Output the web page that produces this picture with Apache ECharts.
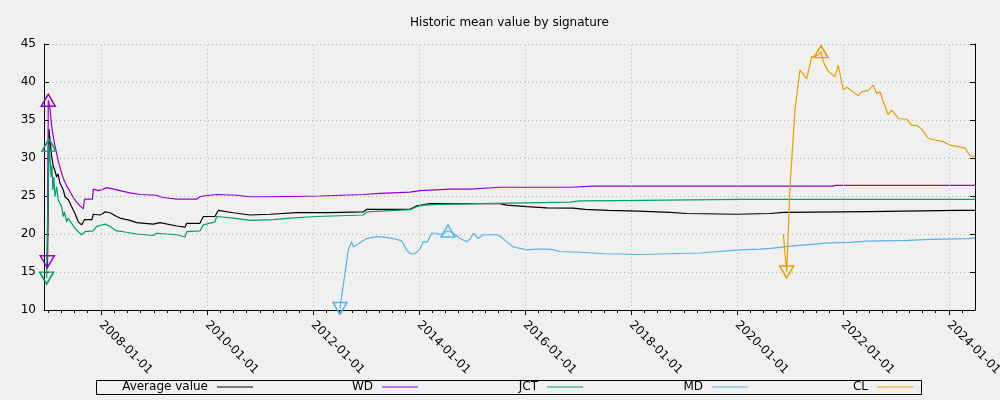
<!DOCTYPE html>
<html><head><meta charset="utf-8">
<script src="https://cdn.jsdelivr.net/npm/echarts@6/dist/echarts.min.js"></script>
<style>html,body{margin:0;padding:0;background:#f0f0f0}#c{width:1000px;height:400px}</style>
</head><body><div id="c"></div>
<script>
// ---- data (x = decimal year) ----
const seriesNames = ['Average value', 'WD', 'JCT', 'MD', 'CL'];
const majorTickYears = [2008, 2010, 2012, 2014, 2016, 2018, 2020, 2022, 2024];
const yTicks = [10, 15, 20, 25, 30, 35, 40, 45];

const avgX = [2006.990,2007.019,2007.050,2007.070,2007.100,2007.120,2007.164,2007.190,2007.226,2007.289,2007.321,2007.385,2007.447,2007.509,2007.572,2007.635,2007.666,2007.690,2007.830,2007.855,2007.981,2008.075,2008.170,2008.296,2008.358,2008.547,2008.674,2008.987,2009.113,2009.428,2009.585,2009.617,2009.868,2009.930,2010.151,2010.213,2010.496,2010.811,2011.189,2011.692,2012.321,2012.949,2013.013,2013.830,2013.957,2014.208,2015.528,2015.655,2016.032,2016.409,2016.911,2017.132,2017.572,2018.138,2018.736,2019.051,2019.994,2020.623,2020.874,2022.477,2024.143,2024.491];
const avgY = [15.5,33.8,31.5,30.2,28.9,28.6,27.5,27.9,26.7,25.8,24.9,24.5,23.6,22.7,21.6,21.2,21.05,21.9,21.9,22.6,22.5,22.9,22.8,22.3,22.1,21.8,21.5,21.3,21.5,21.05,20.9,21.4,21.4,22.3,22.3,23.1,22.8,22.5,22.6,22.8,22.8,22.9,23.25,23.25,23.7,24.0,24.0,23.8,23.6,23.45,23.4,23.25,23.1,23.0,22.85,22.7,22.6,22.7,22.85,22.95,23.1,23.1];

const wdX = [2006.987,2007.006,2007.038,2007.070,2007.100,2007.132,2007.164,2007.194,2007.226,2007.258,2007.289,2007.321,2007.353,2007.415,2007.477,2007.540,2007.604,2007.666,2007.679,2007.690,2007.840,2007.855,2007.950,2008.043,2008.108,2008.170,2008.296,2008.421,2008.547,2008.736,2009.051,2009.113,2009.175,2009.428,2009.806,2009.868,2009.930,2010.183,2010.560,2010.811,2011.189,2012.132,2012.949,2013.264,2013.830,2014.019,2014.585,2014.962,2015.528,2016.849,2017.289,2021.811,2021.850,2024.491];
const wdY = [16.35,37.6,36.5,34.2,32.8,31.6,30.6,29.6,28.8,28.0,27.3,26.8,26.3,25.6,24.8,24.2,23.7,23.3,23.25,24.6,24.6,25.9,25.7,25.9,26.1,26.0,25.8,25.6,25.4,25.2,25.1,24.9,24.8,24.6,24.6,24.9,25.0,25.2,25.1,24.9,24.9,25.0,25.2,25.35,25.5,25.7,25.9,25.9,26.15,26.15,26.3,26.3,26.4,26.4];

const jctX = [2006.975,2007.019,2007.038,2007.060,2007.075,2007.092,2007.110,2007.132,2007.164,2007.194,2007.258,2007.289,2007.310,2007.353,2007.380,2007.447,2007.509,2007.572,2007.635,2007.666,2007.698,2007.855,2007.919,2008.075,2008.170,2008.296,2008.421,2008.674,2008.987,2009.051,2009.428,2009.585,2009.617,2009.868,2009.930,2010.151,2010.183,2010.496,2010.811,2011.251,2011.566,2012.070,2012.949,2013.013,2013.830,2013.957,2014.081,2014.396,2015.151,2016.032,2016.849,2017.038,2017.760,2020.057,2024.491];
const jctY = [14.2,31.7,30.2,27.5,29.0,25.8,27.5,24.9,26.2,24.5,23.6,22.3,22.9,21.6,22.1,21.4,20.75,20.3,19.9,19.8,20.3,20.4,21.0,21.3,21.0,20.4,20.3,20.0,19.8,20.1,19.9,19.6,20.3,20.4,21.2,21.6,22.3,22.1,21.8,21.9,22.1,22.3,22.5,22.9,23.2,23.6,23.8,23.9,24.0,24.1,24.2,24.35,24.4,24.55,24.55];

const mdX = [2012.509,2012.666,2012.730,2012.760,2012.825,2012.919,2013.013,2013.202,2013.391,2013.579,2013.674,2013.768,2013.830,2013.925,2014.019,2014.081,2014.150,2014.240,2014.334,2014.396,2014.547,2014.647,2014.774,2014.900,2014.962,2015.025,2015.119,2015.213,2015.466,2015.528,2015.655,2015.779,2016.032,2016.221,2016.472,2016.660,2017.038,2017.500,2018.170,2019.302,2020.057,2020.434,2020.623,2020.811,2021.000,2021.534,2021.660,2022.132,2022.447,2023.232,2023.642,2024.364,2024.458,2024.491];
const mdY = [10.2,17.9,19.0,18.3,18.55,19.0,19.4,19.65,19.55,19.3,19.1,17.9,17.4,17.4,18.0,19.0,18.9,20.1,20.1,19.9,20.4,20.1,19.4,19.0,19.3,20.1,19.4,19.9,19.9,19.7,19.0,18.3,17.9,18.0,18.0,17.7,17.6,17.4,17.3,17.5,17.9,18.0,18.1,18.25,18.4,18.7,18.8,18.9,19.05,19.15,19.3,19.4,19.5,19.5];

const clX = [2020.874,2020.900,2020.938,2021.000,2021.094,2021.189,2021.250,2021.315,2021.409,2021.534,2021.585,2021.628,2021.690,2021.723,2021.849,2021.911,2022.006,2022.070,2022.194,2022.289,2022.353,2022.477,2022.572,2022.636,2022.700,2022.760,2022.855,2022.919,2023.043,2023.202,2023.296,2023.390,2023.485,2023.609,2023.704,2023.892,2024.019,2024.175,2024.302,2024.396,2024.491];
const clY = [20.0,20.0,15.0,26.2,36.3,41.6,41.0,40.4,43.3,43.55,44.0,42.7,41.8,41.4,40.7,42.2,38.95,39.3,38.7,38.2,38.7,38.9,39.6,38.5,38.7,37.4,35.7,36.3,35.2,35.1,34.3,34.3,33.8,32.6,32.4,32.15,31.7,31.5,31.3,30.3,30.2];

const colors = ['#000000', '#9400d3', '#009e73', '#56b4e9', '#e69f00'];
const xs = [avgX, wdX, jctX, mdX, clX];
const ys = [avgY, wdY, jctY, mdY, clY];
const hasMarkers = [false, true, true, true, true];
const legendEnds = [253, 418, 583, 748, 913];

const FONT = 'DejaVu Sans';
const X_MIN = 2006.925, X_MAX = 2024.491;
const minorTicks = [];
for (let q = 2007 * 4; q / 4 <= X_MAX; q++) minorTicks.push(q / 4);

const gridDot = { color: '#b8b8b8', width: 1, type: [1, 3] };

const series = seriesNames.map((name, i) => ({
  name, type: 'line', xAxisIndex: 0, yAxisIndex: 0,
  data: xs[i].map((x, k) => [x, ys[i][k]]),
  symbol: 'none', smooth: false, z: 3,
  lineStyle: { color: colors[i], width: 1.2 },
  itemStyle: { color: colors[i] },
  markPoint: hasMarkers[i] ? {
    silent: true, label: { show: false },
    symbol: 'triangle', symbolSize: [14, 12],
    itemStyle: { color: 'rgba(0,0,0,0)', borderColor: colors[i], borderWidth: 1.5 },
    data: [{ type: 'min', symbolRotate: 180 }, { type: 'max' }]
  } : undefined
}));

series.unshift({
  type: 'line', data: [], xAxisIndex: 0, yAxisIndex: 0, z: 1, silent: true,
  markLine: {
    silent: true, symbol: ['none', 'none'], label: { show: false },
    lineStyle: gridDot, animation: false,
    data: majorTickYears.map(v => ({ xAxis: v }))
  }
});

const legends = seriesNames.map((name, i) => ({
  data: [name], align: 'right', orient: 'horizontal',
  right: 1000 - legendEnds[i], top: 381, padding: 0,
  icon: 'rect', itemWidth: 36, itemHeight: 1, selectedMode: false,
  textStyle: { fontFamily: FONT, fontSize: 12, color: '#000', padding: [0, 4, 0, 0] }
}));

const option = {
  backgroundColor: '#f0f0f0',
  animation: false,
  color: colors,
  title: {
    text: 'Historic mean value by signature',
    left: 509.5, textAlign: 'center', top: 17, padding: 0,
    textStyle: { fontFamily: FONT, fontSize: 12, fontWeight: 'normal', color: '#000' }
  },
  legend: legends,
  grid: { left: 44, right: 25, top: 44, bottom: 90, containLabel: false, outerBoundsMode: 'none' },
  xAxis: [{
    type: 'value', position: 'bottom', min: X_MIN, max: X_MAX,
    axisLine: { show: true, lineStyle: { color: '#000', width: 1 } },
    axisTick: { show: true, length: 5, customValues: majorTickYears, lineStyle: { color: '#000' } },
    axisLabel: {
      show: true, rotate: -45, margin: 13, customValues: majorTickYears,
      formatter: v => Math.round(v) + '-01-01',
      fontFamily: FONT, fontSize: 12, color: '#000'
    },
    splitLine: { show: false }
  }, {
    type: 'value', position: 'bottom', min: X_MIN, max: X_MAX,
    axisLine: { show: false },
    axisTick: { show: true, length: 3, customValues: minorTicks, lineStyle: { color: '#000' } },
    axisLabel: { show: false },
    splitLine: { show: false }
  }],
  yAxis: [{
    type: 'value', position: 'left', min: yTicks[0], max: yTicks[yTicks.length - 1], interval: 5,
    axisLine: { show: true, lineStyle: { color: '#000', width: 1 } },
    axisTick: { show: true, inside: true, length: 5, lineStyle: { color: '#000' } },
    axisLabel: { show: true, margin: 8, fontFamily: FONT, fontSize: 12, color: '#000' },
    splitLine: { show: true, lineStyle: gridDot }
  }, {
    type: 'value', position: 'right', min: yTicks[0], max: yTicks[yTicks.length - 1], interval: 5,
    axisLine: { show: true, lineStyle: { color: '#000', width: 1 } },
    axisTick: { show: true, inside: true, length: 5, lineStyle: { color: '#000' } },
    axisLabel: { show: false },
    splitLine: { show: false }
  }],
  graphic: [{
    type: 'rect', silent: true, z: 0,
    shape: { x: 96.5, y: 380.5, width: 825, height: 14 },
    style: { fill: 'none', stroke: '#000', lineWidth: 1 }
  }],
  series
};

const chart = echarts.init(document.getElementById('c'), null, { renderer: 'canvas' });
chart.setOption(option);
</script>
</body></html>
